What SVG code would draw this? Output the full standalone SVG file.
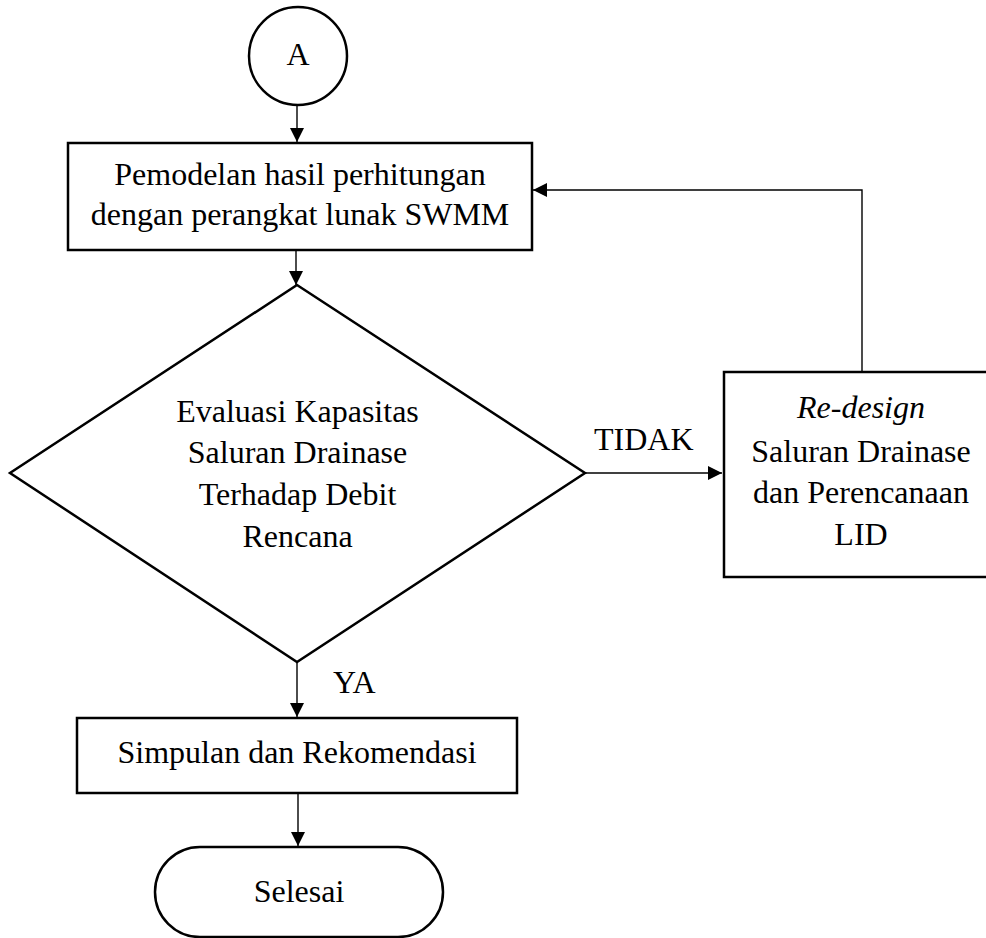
<svg xmlns="http://www.w3.org/2000/svg" width="986" height="938" viewBox="0 0 986 938">
<defs>
<style>
.shape{fill:#fff;stroke:#000;stroke-width:2.5}
.conn{fill:none;stroke:#000;stroke-width:1.4}
text{font-family:"Liberation Serif","Times New Roman",serif;font-size:32px;fill:#000;text-anchor:middle}
.lbl{text-anchor:start}
</style>
<marker id="arr" markerUnits="userSpaceOnUse" markerWidth="15" markerHeight="15" refX="14" refY="7" orient="auto">
<path d="M0,0 L14,7 L0,14 z" fill="#000"/>
</marker>
</defs>
<rect width="986" height="938" fill="#fff"/>
<g id="connectors">
<line class="conn" x1="297" y1="105" x2="297" y2="142" marker-end="url(#arr)"/>
<line class="conn" x1="296" y1="250" x2="296" y2="285" marker-end="url(#arr)"/>
<line class="conn" x1="585" y1="473" x2="722" y2="473" marker-end="url(#arr)"/>
<polyline class="conn" points="862,372 862,190 533,190" marker-end="url(#arr)"/>
<line class="conn" x1="297" y1="662" x2="297" y2="717" marker-end="url(#arr)"/>
<line class="conn" x1="298" y1="793" x2="298" y2="846" marker-end="url(#arr)"/>
<text class="lbl" x="594" y="450">TIDAK</text>
<text class="lbl" x="333" y="693">YA</text>
</g>
<g id="nodeA">
<circle class="shape" cx="298" cy="56" r="49" stroke-width="2"/>
<text x="298" y="65">A</text>
</g>
<g id="pemodelan">
<rect class="shape" x="68" y="143" width="464" height="107"/>
<text x="300" y="185">Pemodelan hasil perhitungan</text>
<text x="300" y="225">dengan perangkat lunak SWMM</text>
</g>
<g id="evaluasi">
<polygon class="shape" points="297,285 585,473 297,662 10,473"/>
<text x="297.5" y="422">Evaluasi Kapasitas</text>
<text x="297.5" y="463">Saluran Drainase</text>
<text x="297.5" y="505">Terhadap Debit</text>
<text x="297.5" y="547">Rencana</text>
</g>
<g id="redesign">
<rect class="shape" x="724" y="372" width="276" height="205"/>
<text x="861" y="418" font-style="italic">Re-design</text>
<text x="861" y="462">Saluran Drainase</text>
<text x="861" y="503">dan Perencanaan</text>
<text x="861" y="545">LID</text>
</g>
<g id="simpulan">
<rect class="shape" x="77" y="718" width="440" height="75"/>
<text x="297" y="763">Simpulan dan Rekomendasi</text>
</g>
<g id="selesai">
<rect class="shape" x="155" y="847" width="288" height="90" rx="45" ry="45"/>
<text x="299" y="902">Selesai</text>
</g>
</svg>
